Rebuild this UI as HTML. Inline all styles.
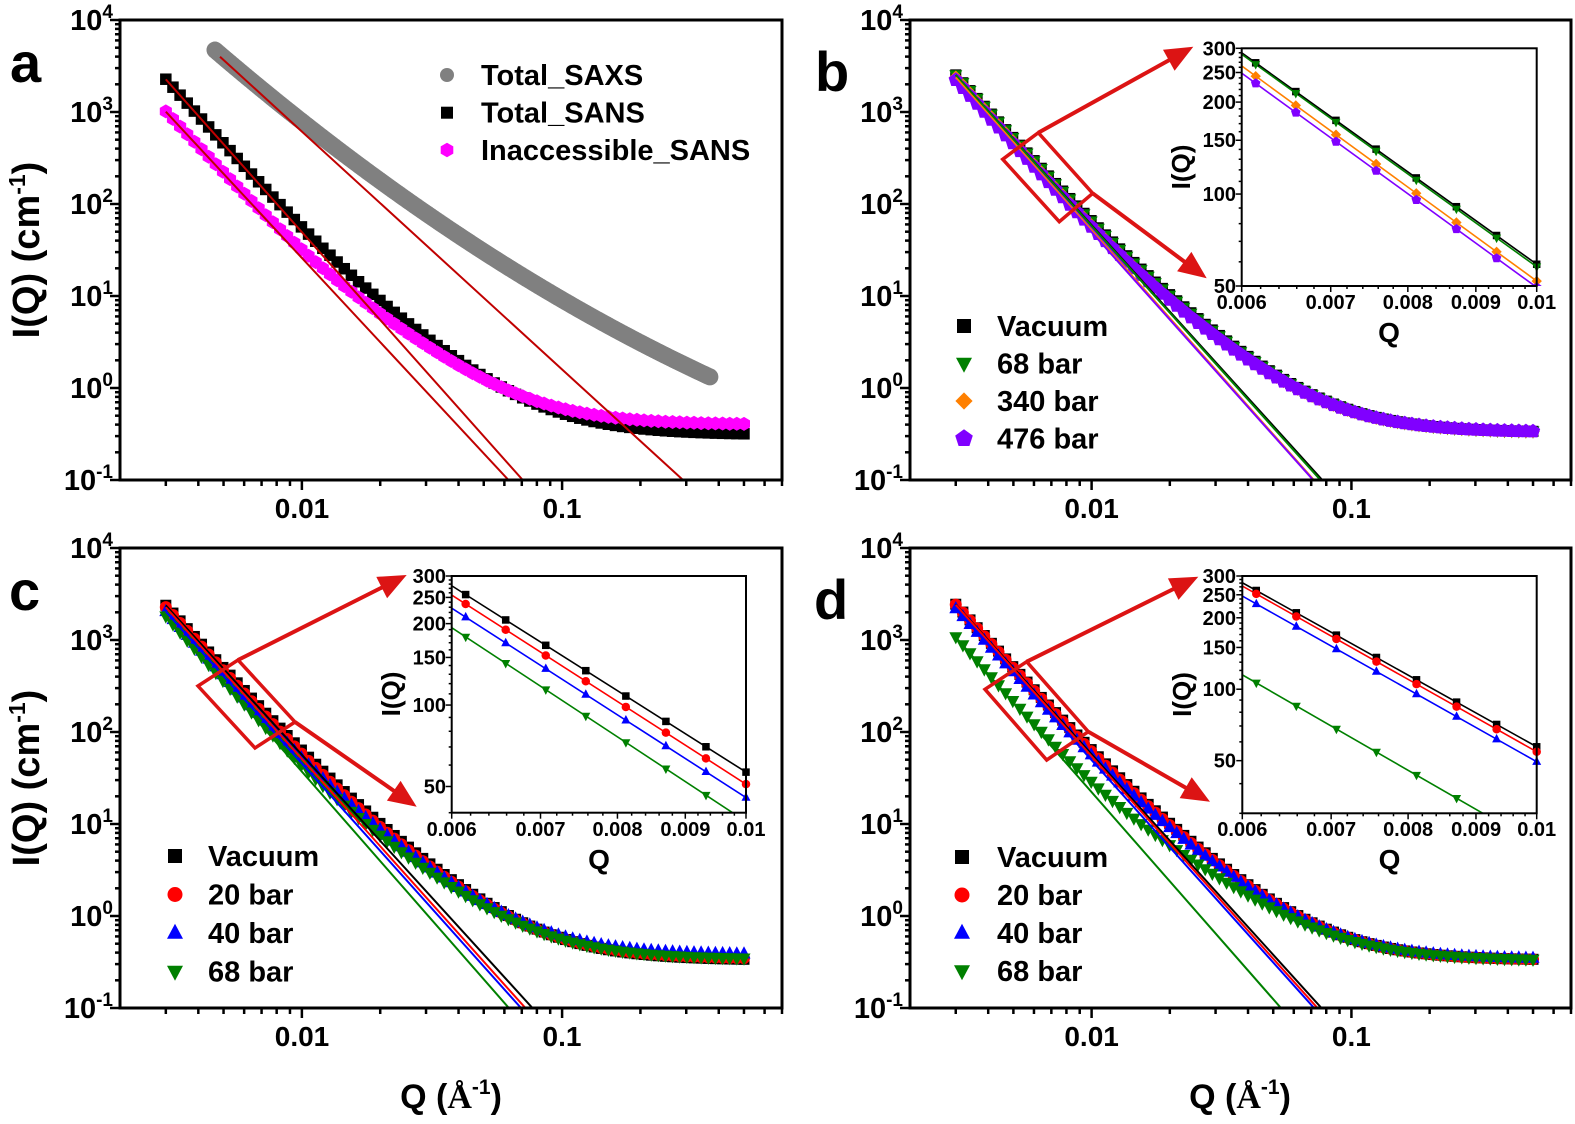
<!DOCTYPE html>
<html><head><meta charset="utf-8">
<style>
html,body{margin:0;padding:0;background:#fff;width:1575px;height:1124px;overflow:hidden;}
svg{display:block;position:absolute;left:0;top:0;}
text{font-family:"Liberation Sans",Arial,sans-serif;font-weight:bold;fill:#000;}
</style></head>
<body>
<svg id="svg" width="1575" height="1124" viewBox="0 0 1575 1124" xmlns="http://www.w3.org/2000/svg">
<rect x="0" y="0" width="1575" height="1124" fill="#fff"/>
<g id="plot"></g>
<g id="txt">
<!-- panel letters -->
<text x="10" y="82" font-size="56">a</text>
<text x="815" y="91" font-size="56">b</text>
<text x="9" y="610" font-size="56">c</text>
<text x="814" y="619" font-size="56">d</text>

<!-- y labels -->
<g font-size="29" text-anchor="end">
<text x="113" y="30">10<tspan dy="-12" font-size="19">4</tspan></text>
<text x="113" y="122">10<tspan dy="-12" font-size="19">3</tspan></text>
<text x="113" y="214">10<tspan dy="-12" font-size="19">2</tspan></text>
<text x="113" y="306">10<tspan dy="-12" font-size="19">1</tspan></text>
<text x="113" y="398">10<tspan dy="-12" font-size="19">0</tspan></text>
<text x="113" y="490">10<tspan dy="-12" font-size="19">-1</tspan></text>
<text x="903" y="30">10<tspan dy="-12" font-size="19">4</tspan></text>
<text x="903" y="122">10<tspan dy="-12" font-size="19">3</tspan></text>
<text x="903" y="214">10<tspan dy="-12" font-size="19">2</tspan></text>
<text x="903" y="306">10<tspan dy="-12" font-size="19">1</tspan></text>
<text x="903" y="398">10<tspan dy="-12" font-size="19">0</tspan></text>
<text x="903" y="490">10<tspan dy="-12" font-size="19">-1</tspan></text>
<text x="113" y="558">10<tspan dy="-12" font-size="19">4</tspan></text>
<text x="113" y="650">10<tspan dy="-12" font-size="19">3</tspan></text>
<text x="113" y="742">10<tspan dy="-12" font-size="19">2</tspan></text>
<text x="113" y="834">10<tspan dy="-12" font-size="19">1</tspan></text>
<text x="113" y="926">10<tspan dy="-12" font-size="19">0</tspan></text>
<text x="113" y="1018">10<tspan dy="-12" font-size="19">-1</tspan></text>
<text x="903" y="558">10<tspan dy="-12" font-size="19">4</tspan></text>
<text x="903" y="650">10<tspan dy="-12" font-size="19">3</tspan></text>
<text x="903" y="742">10<tspan dy="-12" font-size="19">2</tspan></text>
<text x="903" y="834">10<tspan dy="-12" font-size="19">1</tspan></text>
<text x="903" y="926">10<tspan dy="-12" font-size="19">0</tspan></text>
<text x="903" y="1018">10<tspan dy="-12" font-size="19">-1</tspan></text>
</g>
<!-- x labels -->
<g font-size="28" text-anchor="middle">
<text x="302" y="518">0.01</text>
<text x="562" y="518">0.1</text>
<text x="1091.6" y="518">0.01</text>
<text x="1351.4" y="518">0.1</text>
<text x="302" y="1046">0.01</text>
<text x="562" y="1046">0.1</text>
<text x="1091.6" y="1046">0.01</text>
<text x="1351.4" y="1046">0.1</text>
</g>
<!-- axis titles -->
<text transform="translate(39,250) rotate(-90)" text-anchor="middle" font-size="38">I(Q) (cm<tspan dy="-14" font-size="23">-1</tspan><tspan dy="14">)</tspan></text>
<text transform="translate(39,778) rotate(-90)" text-anchor="middle" font-size="38">I(Q) (cm<tspan dy="-14" font-size="23">-1</tspan><tspan dy="14">)</tspan></text>
<text x="451" y="1108" text-anchor="middle" font-size="34">Q (<tspan font-family="Liberation Serif, serif">Å</tspan><tspan dy="-14" font-size="21">-1</tspan><tspan dy="14">)</tspan></text>
<text x="1240" y="1108" text-anchor="middle" font-size="34">Q (<tspan font-family="Liberation Serif, serif">Å</tspan><tspan dy="-14" font-size="21">-1</tspan><tspan dy="14">)</tspan></text>

<!-- legends -->
<g font-size="29">
<text x="481" y="85">Total_SAXS</text>
<text x="481" y="122.7">Total_SANS</text>
<text x="481" y="160">Inaccessible_SANS</text>
<text x="997" y="336">Vacuum</text>
<text x="997" y="373.5">68 bar</text>
<text x="997" y="411">340 bar</text>
<text x="997" y="448.5">476 bar</text>
<text x="208" y="866">Vacuum</text>
<text x="208" y="904.5">20 bar</text>
<text x="208" y="943">40 bar</text>
<text x="208" y="981.5">68 bar</text>
<text x="997" y="867">Vacuum</text>
<text x="997" y="905">20 bar</text>
<text x="997" y="943">40 bar</text>
<text x="997" y="981">68 bar</text>
</g>

<!-- inset labels -->
<g font-size="20" text-anchor="end">
<text x="1236" y="55.3">300</text>
<text x="1236" y="79.5">250</text>
<text x="1236" y="109.1">200</text>
<text x="1236" y="147.2">150</text>
<text x="1236" y="201">100</text>
<text x="1236" y="293">50</text>
<text x="446" y="583">300</text>
<text x="446" y="604.4">250</text>
<text x="446" y="630.7">200</text>
<text x="446" y="664.5">150</text>
<text x="446" y="712.2">100</text>
<text x="446" y="793.7">50</text>
<text x="1236" y="583">300</text>
<text x="1236" y="601.8">250</text>
<text x="1236" y="624.8">200</text>
<text x="1236" y="654.4">150</text>
<text x="1236" y="696.2">100</text>
<text x="1236" y="767.6">50</text>
</g>
<g font-size="20" text-anchor="middle">
<text x="1241.7" y="309">0.006</text>
<text x="1330.7" y="309">0.007</text>
<text x="1407.8" y="309">0.008</text>
<text x="1475.9" y="309">0.009</text>
<text x="1536.7" y="309">0.01</text>
<text x="451.7" y="836">0.006</text>
<text x="540.5" y="836">0.007</text>
<text x="617.5" y="836">0.008</text>
<text x="685.4" y="836">0.009</text>
<text x="746" y="836">0.01</text>
<text x="1242.3" y="836">0.006</text>
<text x="1331.1" y="836">0.007</text>
<text x="1408.1" y="836">0.008</text>
<text x="1476.1" y="836">0.009</text>
<text x="1536.7" y="836">0.01</text>
</g>
<g font-size="28" text-anchor="middle">
<text x="1389" y="342">Q</text>
<text x="599" y="869">Q</text>
<text x="1389.5" y="869">Q</text>
</g>
<g font-size="26" text-anchor="middle">
<text transform="translate(1190,167) rotate(-90)">I(Q)</text>
<text transform="translate(400,694) rotate(-90)">I(Q)</text>
<text transform="translate(1191,694.5) rotate(-90)">I(Q)</text>
</g>
</g>
</svg>
<script>
(function(){
const NS='http://www.w3.org/2000/svg';
const L=Math.log10;
const root=document.getElementById('plot');
function el(t,a,p){const e=document.createElementNS(NS,t);for(const k in a)e.setAttribute(k,a[k]);p.appendChild(e);return e;}
const defs=el('defs',{},root);
function clip(id,x,y,w,h){const c=el('clipPath',{id:id},defs);el('rect',{x:x,y:y,width:w,height:h},c);}
function poly(g,pts,col){el('polygon',{points:pts.map(p=>p[0].toFixed(1)+','+p[1].toFixed(1)).join(' '),fill:col},g);}
function mk(g,sh,cx,cy,s,col){
  const h=s/2;
  if(sh==='sq'){el('rect',{x:cx-h,y:cy-h,width:s,height:s,fill:col},g);}
  else if(sh==='ci'){el('circle',{cx:cx,cy:cy,r:h,fill:col},g);}
  else if(sh==='tu'){poly(g,[[cx,cy-s*0.58],[cx-h,cy+s*0.36],[cx+h,cy+s*0.36]],col);}
  else if(sh==='td'){poly(g,[[cx,cy+s*0.58],[cx-h,cy-s*0.36],[cx+h,cy-s*0.36]],col);}
  else if(sh==='di'){const d=h*1.15;poly(g,[[cx,cy-d],[cx+d,cy],[cx,cy+d],[cx-d,cy]],col);}
  else if(sh==='pe'||sh==='hx'){
    const n=sh==='pe'?5:6, r=s*0.56, pts=[];
    for(let k=0;k<n;k++){const a=-Math.PI/2+k*2*Math.PI/n;pts.push([cx+r*Math.cos(a),cy+r*Math.sin(a)]);}
    poly(g,pts,col);
  }
}
function panel(x0,x1,y0,y1,id){
  const kx=(x1-x0)/(L(0.7)-L(0.002)), ky=(y1-y0)/5;
  clip(id,x0,y0,x1-x0,y1-y0);
  return {x0:x0,x1:x1,y0:y0,y1:y1,id:id,X:q=>x0+(L(q)-L(0.002))*kx,Y:v=>y0+(4-L(v))*ky};
}
function frame(P){
  const g=el('g',{stroke:'#000'},root);
  el('rect',{x:P.x0,y:P.y0,width:P.x1-P.x0,height:P.y1-P.y0,fill:'none','stroke-width':3},g);
  [0.001,0.01,0.1].forEach(dec=>{for(let m=1;m<=9;m++){const q=m*dec;if(q<0.00201||q>0.701)continue;const x=P.X(q);el('line',{x1:x,y1:P.y1,x2:x,y2:P.y1+(m===1?10:6),'stroke-width':2.5},g);}});
  for(let e=-1;e<=4;e++){for(let m=1;m<=9;m++){const v=m*Math.pow(10,e);if(v>10000.1)continue;const y=P.Y(v);el('line',{x1:P.x0-(m===1?10:5),y1:y,x2:P.x0,y2:y,'stroke-width':2.5},g);}}
}
const N=82, Qs=[];
for(let i=0;i<N;i++)Qs.push(Math.pow(10,L(0.003)+i*(L(0.5)-L(0.003))/(N-1)));
function sans(A,p,K,bg){return q=>A*Math.pow(q/0.01,-p)+K*Math.pow(q/0.1,-2)/(1+Math.pow(0.015/q,2))+bg;}
function pw(A,p){const f=q=>A*Math.pow(q/0.01,-p);f.A=A;f.p=p;return f;}
function markers(P,f,sh,s,col){const g=el('g',{},root);Qs.forEach(q=>mk(g,sh,P.X(q),P.Y(f(q)),s,col));}
function fitline(P,f,col,w){const g=el('g',{'clip-path':'url(#'+P.id+')'},root);
  const qe=0.01*Math.pow(f.A/0.09,1/f.p);
  el('line',{x1:P.X(0.003),y1:P.Y(f(0.003)),x2:P.X(qe),y2:P.Y(f(qe)),stroke:col,'stroke-width':w||2},g);}

/* ---------- Panel a ---------- */
const PA=panel(120,782,20,480,'cA');
(function(){
  function li(x){const u=x+1.419;return 1.70-1.889*u+0.2925*u*u;}
  const g=el('g',{},root);
  const cnt=320, xs=-2.334, xe=-0.432;
  for(let i=0;i<cnt;i++){const lq=xs+i*(xe-xs)/(cnt-1);
    el('circle',{cx:PA.X(Math.pow(10,lq)),cy:PA.Y(Math.pow(10,li(lq))),r:8.5,fill:'#808080'},g);}
})();
const fBk=sans(49.5,3.175,0.194,0.31), fMg=sans(25.9,3.04,0.18,0.40);
markers(PA,fBk,'sq',11.5,'#000');
markers(PA,fMg,'hx',12.5,'#ff00ff');
(function(){const g=el('g',{'clip-path':'url(#cA)'},root);
  el('line',{x1:220,y1:56.7,x2:683,y2:480,stroke:'#c00000','stroke-width':2},g);})();
fitline(PA,pw(49.5,3.175),'#c00000',2);
fitline(PA,pw(25.9,3.04),'#c00000',2);
frame(PA);
(function(){const g=el('g',{},root);mk(g,'ci',447,75,14,'#808080');mk(g,'sq',447,112.7,12,'#000');mk(g,'hx',447,150,13,'#ff00ff');})();

/* ---------- Panel b ---------- */
const PB=panel(910,1571,20,480,'cB');
const B=[{A:58.9,p:3.121,c:'#000',sh:'sq',s:11},{A:57.8,p:3.136,c:'#008000',sh:'td',s:13},{A:51.9,p:3.174,c:'#ff8000',sh:'di',s:12},{A:49.5,p:3.16,c:'#8000ff',sh:'pe',s:13.5}];
B.forEach(s=>markers(PB,sans(s.A,s.p,0.2,0.33),s.sh,s.s,s.c));
B.forEach(s=>fitline(PB,pw(s.A,s.p),s.c,2));
frame(PB);

/* ---------- Panel c ---------- */
const PC=panel(120,782,548,1008,'cC');
const C=[{A:56.5,p:3.106,c:'#000',sh:'sq',s:11,bg:0.33},{A:51.0,p:3.152,c:'#ff0000',sh:'ci',s:12,bg:0.34},{A:45.5,p:3.156,c:'#0000ff',sh:'tu',s:13,bg:0.38},{A:37.1,p:3.23,c:'#008000',sh:'td',s:13,bg:0.34}];
C.forEach(s=>markers(PC,sans(s.A,s.p,0.2,s.bg),s.sh,s.s,s.c));
C.forEach(s=>fitline(PC,pw(s.A,s.p),s.c,2));
frame(PC);

/* ---------- Panel d ---------- */
const PD=panel(910,1571,548,1008,'cD');
const D=[{A:57.2,p:3.117,c:'#000',sh:'sq',s:11,bg:0.33},{A:54.5,p:3.148,c:'#ff0000',sh:'ci',s:12,bg:0.33},{A:49.5,p:3.147,c:'#0000ff',sh:'tu',s:13,bg:0.34},{A:22.2,p:3.22,c:'#008000',sh:'td',s:13,bg:0.33}];
D.forEach(s=>markers(PD,sans(s.A,s.p,0.2,s.bg),s.sh,s.s,s.c));
D.forEach(s=>fitline(PD,pw(s.A,s.p),s.c,2));
frame(PD);

/* legends b,c,d */
(function(){const g=el('g',{},root);
  const yb=[326,363.5,401,438.5];B.forEach((s,i)=>mk(g,s.sh,964,yb[i],s.s+3,s.c));
  const yc=[856,894.5,933,971.5];C.forEach((s,i)=>mk(g,s.sh,175,yc[i],s.s+3,s.c));
  const yd=[857,895,933,971];D.forEach((s,i)=>mk(g,s.sh,962,yd[i],s.s+3,s.c));
})();

/* ---------- red boxes & arrows ---------- */
const RED='#dc1414';
function arrow(g,x1,y1,x2,y2){
  const dx=x2-x1,dy=y2-y1,len=Math.hypot(dx,dy),ux=dx/len,uy=dy/len,hl=28,hw=12;
  const bx=x2-ux*hl,by=y2-uy*hl;
  el('line',{x1:x1,y1:y1,x2:bx+ux*2,y2:by+uy*2,stroke:RED,'stroke-width':4},g);
  poly(g,[[x2,y2],[bx-uy*hw,by+ux*hw],[bx+uy*hw,by-ux*hw]],RED);
}
function box(pts,a1,a2){
  const g=el('g',{},root);
  el('polygon',{points:pts.map(p=>p.join(',')).join(' '),fill:'none',stroke:RED,'stroke-width':3.5,'stroke-linejoin':'miter'},g);
  arrow(g,a1[0],a1[1],a1[2],a1[3]);arrow(g,a2[0],a2[1],a2[2],a2[3]);
}
box([[1002.7,159.3],[1038.3,132.7],[1092.7,193.3],[1059.3,221.7]],[1038.3,132.7,1193.3,46.7],[1092.7,193.3,1206.7,278.3]);
box([[198,686],[238,660],[295,722],[255,748]],[238,660,406.7,575],[295,722,416.7,806.7]);
box([[985,689.3],[1026.7,661.7],[1088.3,731.7],[1046.7,760]],[1026.7,661.7,1198.3,576.7],[1088.3,731.7,1210,801.7]);

/* ---------- insets ---------- */
const Qk=[];for(let k=0;k<8;k++)Qk.push(0.01*Math.pow(10,-(7-k)*0.03019));
function inset(x0,x1,yT,yB,vT,vB,series,id){
  const g=el('g',{},root);
  el('rect',{x:x0,y:yT,width:x1-x0,height:yB-yT,fill:'#fff'},g);
  const X=q=>x0+(L(q)-L(0.006))/(L(0.01)-L(0.006))*(x1-x0);
  const ky=(yB-yT)/(L(vT)-L(vB));
  const Y=v=>yT+(L(vT)-L(v))*ky;
  clip(id+'l',x0,yT,x1-x0,yB-yT);
  clip(id+'m',x0-12,yT-12,x1-x0+24,yB-yT+12);
  const gl=el('g',{'clip-path':'url(#'+id+'l)'},g);
  const gm=el('g',{'clip-path':'url(#'+id+'m)'},g);
  series.forEach(s=>{const f=pw(s.A,s.p);
    el('line',{x1:X(0.006),y1:Y(f(0.006)),x2:X(0.01),y2:Y(f(0.01)),stroke:s.c,'stroke-width':1.6},gl);});
  series.forEach(s=>{const f=pw(s.A,s.p);
    Qk.forEach(q=>{const y=Y(f(q));if(y<yB+6)mk(gm,s.sh,X(q),y,s.sh==='sq'?7.5:(s.sh==='ci'?8.5:9),s.c);});});
  const gf=el('g',{stroke:'#000'},g);
  el('rect',{x:x0,y:yT,width:x1-x0,height:yB-yT,fill:'none','stroke-width':2},gf);
  for(let i=0;i<=20;i++){const q=0.006+i*0.0002,x=X(q),maj=(i%5===0);
    el('line',{x1:x,y1:yB,x2:x,y2:yB+(maj?6:3),'stroke-width':1.5},gf);}
  for(let v=Math.ceil(vB/10)*10;v<=vT;v+=10){const y=Y(v),maj=(v%50===0);
    el('line',{x1:x0-(maj?6:3),y1:y,x2:x0,y2:y,'stroke-width':1.5},gf);}
}
inset(1241.7,1536.7,48.3,286,300,50,B,'iB');
inset(451.7,746,576,812.7,300,40,C,'iC');
inset(1242.3,1536.7,576,813.3,300,30,D,'iD');
})();
</script>
</body></html>
